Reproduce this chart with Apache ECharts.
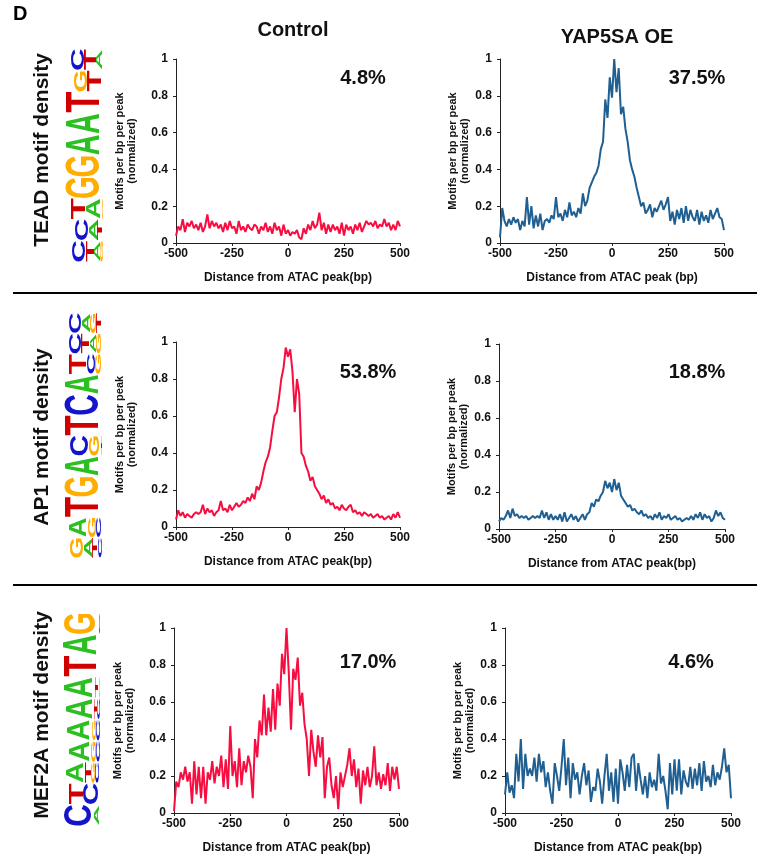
<!DOCTYPE html>
<html>
<head>
<meta charset="utf-8">
<script src="https://cdn.jsdelivr.net/npm/echarts@6/dist/echarts.min.js"></script>
<style>
  html, body { margin: 0; padding: 0; background: #fff; }
  #chart { width: 765px; height: 860px; }
</style>
</head>
<body>
<div id="chart"></div>
<script>
// distance bins, -500..500 bp every 10 bp
const distances = [];
for (let i = 0; i <= 100; i++) distances.push(-500 + 10 * i);

// normalized motif density
const teadControl = [
  0.04, 0.09, 0.07, 0.13, 0.06, 0.11, 0.09, 0.12, 0.08, 0.10,
  0.07, 0.11, 0.06, 0.09, 0.155, 0.08, 0.12, 0.09, 0.11, 0.08,
  0.10, 0.06, 0.11, 0.07, 0.12, 0.08, 0.09, 0.05, 0.12, 0.07,
  0.09, 0.06, 0.10, 0.08, 0.07, 0.10, 0.09, 0.05, 0.09, 0.07,
  0.11, 0.06, 0.09, 0.05, 0.11, 0.07, 0.09, 0.04, 0.10, 0.05,
  0.07, 0.04, 0.06, 0.05, 0.07, 0.03, 0.02, 0.08, 0.05, 0.10,
  0.07, 0.12, 0.08, 0.10, 0.165, 0.07, 0.11, 0.05, 0.10, 0.06,
  0.10, 0.07, 0.09, 0.05, 0.11, 0.04, 0.10, 0.07, 0.09, 0.05,
  0.10, 0.07, 0.11, 0.06, 0.09, 0.12, 0.10, 0.11, 0.09, 0.12,
  0.08, 0.10, 0.09, 0.13, 0.09, 0.11, 0.07, 0.10, 0.07, 0.12,
  0.09
];
const teadYap = [
  0.03, 0.19, 0.12, 0.09, 0.13, 0.10, 0.14, 0.11, 0.13, 0.07,
  0.12, 0.09, 0.25, 0.10, 0.20, 0.08, 0.15, 0.09, 0.16, 0.07,
  0.12, 0.13, 0.11, 0.15, 0.13, 0.25, 0.14, 0.16, 0.12, 0.18,
  0.14, 0.22, 0.15, 0.17, 0.14, 0.19, 0.16, 0.27, 0.20, 0.23,
  0.30, 0.33, 0.36, 0.38, 0.42, 0.51, 0.55, 0.78, 0.68, 0.90,
  0.79, 1.00, 0.82, 0.95, 0.70, 0.74, 0.62, 0.55, 0.45, 0.40,
  0.36, 0.30, 0.25, 0.20, 0.22, 0.16, 0.18, 0.21, 0.14, 0.19,
  0.17, 0.20, 0.23, 0.18, 0.21, 0.25, 0.12, 0.17, 0.10, 0.18,
  0.13, 0.19, 0.11, 0.20, 0.12, 0.18, 0.14, 0.12, 0.18, 0.10,
  0.17, 0.12, 0.15, 0.11, 0.18, 0.13, 0.16, 0.19, 0.14, 0.13,
  0.07
];
const ap1Control = [
  0.04, 0.09, 0.06, 0.08, 0.05, 0.07, 0.06, 0.05, 0.07, 0.08,
  0.07, 0.08, 0.12, 0.07, 0.10, 0.08, 0.09, 0.06, 0.08, 0.09,
  0.14, 0.09, 0.10, 0.08, 0.12, 0.09, 0.11, 0.13, 0.11, 0.12,
  0.14, 0.13, 0.16, 0.14, 0.18, 0.15, 0.22, 0.20, 0.24, 0.30,
  0.35, 0.38, 0.43, 0.52, 0.60, 0.62, 0.70, 0.80, 0.86, 0.97,
  0.92, 0.96, 0.84, 0.62, 0.80, 0.72, 0.40, 0.38, 0.33, 0.30,
  0.25, 0.27, 0.22, 0.20, 0.18, 0.15, 0.17, 0.13, 0.15, 0.12,
  0.13, 0.10, 0.11, 0.09, 0.12, 0.10, 0.09, 0.11, 0.12, 0.08,
  0.09, 0.07, 0.08, 0.06, 0.08, 0.07, 0.06, 0.07, 0.05, 0.06,
  0.07, 0.05, 0.06, 0.04, 0.05, 0.06, 0.04, 0.07, 0.05, 0.08,
  0.05
];
const ap1Yap = [
  0.04, 0.06, 0.05, 0.07, 0.10, 0.06, 0.11, 0.07, 0.08, 0.06,
  0.07, 0.06, 0.07, 0.05, 0.06, 0.07, 0.06, 0.07, 0.06, 0.10,
  0.06, 0.09, 0.05, 0.08, 0.05, 0.07, 0.05, 0.08, 0.04, 0.09,
  0.04, 0.06, 0.08, 0.05, 0.07, 0.04, 0.06, 0.08, 0.05, 0.08,
  0.09, 0.14, 0.12, 0.16, 0.15, 0.18, 0.20, 0.26, 0.22, 0.25,
  0.20, 0.27, 0.21, 0.25, 0.18, 0.16, 0.14, 0.12, 0.13, 0.10,
  0.11, 0.09, 0.08, 0.10, 0.07, 0.08, 0.06, 0.07, 0.05, 0.08,
  0.06, 0.09, 0.05, 0.07, 0.06, 0.08, 0.05, 0.06, 0.07, 0.05,
  0.06, 0.04, 0.05, 0.06, 0.05, 0.07, 0.05, 0.08, 0.06, 0.09,
  0.05, 0.08, 0.06, 0.07, 0.04, 0.06, 0.10, 0.07, 0.09, 0.06,
  0.05
];
const mef2aControl = [
  0.01, 0.17, 0.14, 0.22, 0.18, 0.25, 0.17, 0.22, 0.05, 0.28,
  0.10, 0.25, 0.08, 0.25, 0.05, 0.22, 0.18, 0.28, 0.16, 0.25,
  0.20, 0.31, 0.14, 0.29, 0.13, 0.47, 0.20, 0.28, 0.14, 0.35,
  0.15, 0.28, 0.22, 0.31, 0.25, 0.08, 0.40, 0.30, 0.50, 0.42,
  0.64, 0.42, 0.57, 0.44, 0.67, 0.45, 0.70, 0.58, 0.86, 0.75,
  1.00, 0.76, 0.45, 0.78, 0.72, 0.84, 0.58, 0.65, 0.48, 0.40,
  0.20, 0.45, 0.33, 0.25, 0.42, 0.30, 0.41, 0.08, 0.25, 0.30,
  0.15, 0.08, 0.20, 0.02, 0.22, 0.14, 0.20, 0.26, 0.35, 0.20,
  0.29, 0.14, 0.24, 0.05, 0.23, 0.15, 0.25, 0.14, 0.20, 0.36,
  0.15, 0.22, 0.13, 0.21, 0.15, 0.27, 0.12, 0.25, 0.18, 0.25,
  0.13
];
const mef2aYap = [
  0.10, 0.22, 0.11, 0.15, 0.08, 0.32, 0.17, 0.40, 0.13, 0.32,
  0.20, 0.24, 0.20, 0.30, 0.17, 0.32, 0.22, 0.28, 0.14, 0.22,
  0.12, 0.05, 0.27, 0.20, 0.12, 0.25, 0.40, 0.15, 0.30, 0.08,
  0.27, 0.18, 0.22, 0.10, 0.20, 0.27, 0.15, 0.23, 0.06, 0.14,
  0.12, 0.24, 0.17, 0.05, 0.20, 0.32, 0.12, 0.22, 0.06, 0.24,
  0.05, 0.29, 0.22, 0.12, 0.26, 0.14, 0.30, 0.32, 0.12, 0.27,
  0.18, 0.10, 0.20, 0.08, 0.22, 0.14, 0.18, 0.12, 0.32, 0.16,
  0.20, 0.12, 0.02, 0.27, 0.10, 0.29, 0.12, 0.29, 0.10, 0.23,
  0.17, 0.14, 0.25, 0.13, 0.24, 0.15, 0.27, 0.12, 0.28, 0.17,
  0.20, 0.14, 0.26, 0.15, 0.22, 0.18, 0.25, 0.35, 0.22, 0.26,
  0.08
];

const percents = ['4.8%', '37.5%', '53.8%', '18.8%', '17.0%', '4.6%'];
const columnTitles = ['Control', 'YAP5SA OE'];
const rowTitles = ['TEAD motif density', 'AP1 motif density', 'MEF2A motif density'];

// sequence logos: per position, letters bottom -> top with height in bits
const teadLogo = [
  [['G', 0.15], ['A', 0.35], ['T', 0.45], ['C', 0.75]],
  [['T', 0.3], ['A', 0.5], ['C', 0.8]],
  [['G', 0.1], ['A', 0.85], ['T', 0.85]],
  [['G', 2.0]],
  [['G', 2.0]],
  [['A', 2.0]],
  [['A', 2.0]],
  [['T', 2.0]],
  [['T', 0.85], ['G', 0.8]],
  [['A', 0.35], ['T', 0.7], ['C', 0.75]]
];
const ap1Logo = [
  [['C', 0.25], ['T', 0.3], ['A', 0.45], ['G', 0.8]],
  [['C', 0.3], ['G', 0.5], ['A', 1.0]],
  [['T', 2.0]],
  [['G', 2.0]],
  [['A', 2.0]],
  [['T', 0.1], ['G', 0.6], ['C', 1.1]],
  [['T', 2.0]],
  [['C', 2.0]],
  [['A', 2.0]],
  [['G', 0.35], ['C', 0.5], ['T', 1.0]],
  [['G', 0.3], ['A', 0.4], ['T', 0.45], ['C', 0.7]],
  [['T', 0.3], ['G', 0.35], ['A', 0.5], ['C', 0.7]]
];
const mef2aLogo = [
  [['A', 0.3], ['C', 1.6]],
  [['C', 0.9], ['T', 0.8]],
  [['C', 0.25], ['G', 0.25], ['T', 0.35], ['A', 0.95]],
  [['C', 0.2], ['G', 0.3], ['A', 1.2]],
  [['C', 0.2], ['G', 0.25], ['A', 1.3]],
  [['C', 0.15], ['T', 0.15], ['A', 1.5]],
  [['G', 0.1], ['T', 0.15], ['A', 1.7]],
  [['T', 1.9]],
  [['A', 1.95]],
  [['C', 0.1], ['G', 1.8]]
];

const RED = '#f70d40';
const BLUE = '#1f5f91';
const FONT = '"Liberation Sans", Arial, Helvetica, sans-serif';
const LETTER_COLOR = { A: '#2bbf22', C: '#1414cc', G: '#ffae00', T: '#d00000' };
const LETTER_INK = { A: 0.70, C: 0.64, G: 0.68, T: 0.58 };

const chart = echarts.init(document.getElementById('chart'));

const panels = [
  { data: teadControl, color: RED, grid: { left: 176, top: 59, width: 224, height: 184 }, xName: 'Distance from ATAC peak(bp)' },
  { data: teadYap, color: BLUE, grid: { left: 500, top: 59, width: 224, height: 184 }, xName: 'Distance from ATAC peak (bp)' },
  { data: ap1Control, color: RED, grid: { left: 176, top: 342, width: 224, height: 185 }, xName: 'Distance from ATAC peak(bp)' },
  { data: ap1Yap, color: BLUE, grid: { left: 499, top: 344, width: 226, height: 185 }, xName: 'Distance from ATAC peak(bp)' },
  { data: mef2aControl, color: RED, grid: { left: 174, top: 628, width: 225, height: 185 }, xName: 'Distance from ATAC peak(bp)' },
  { data: mef2aYap, color: BLUE, grid: { left: 505, top: 628, width: 226, height: 185 }, xName: 'Distance from ATAC peak(bp)' }
];

const axisCommon = {
  axisLine: { show: true, onZero: false, lineStyle: { color: '#222', width: 1 } },
  axisTick: { show: true, length: 3, lineStyle: { color: '#222' } },
  splitLine: { show: false },
  axisLabel: { color: '#111', fontFamily: FONT, fontWeight: 'bold', fontSize: 12 }
};

const grids = [], xAxes = [], yAxes = [], series = [];
panels.forEach((p, i) => {
  grids.push(p.grid);
  xAxes.push(Object.assign({}, axisCommon, {
    type: 'value', gridIndex: i, min: -500, max: 500, interval: 250,
    axisLabel: Object.assign({}, axisCommon.axisLabel, { margin: 5 }),
    name: p.xName, nameLocation: 'middle', nameGap: 29,
    nameTextStyle: { color: '#111', fontFamily: FONT, fontWeight: 'bold', fontSize: 12 }
  }));
  yAxes.push(Object.assign({}, axisCommon, {
    type: 'value', gridIndex: i, min: 0, max: 1, interval: 0.2,
    axisLabel: Object.assign({}, axisCommon.axisLabel, { margin: 8 }),
    name: 'Motifs per bp per peak\n(normalized)', nameLocation: 'middle', nameRotate: 90,
    nameGap: i % 2 === 0 ? 38 : 29,
    nameTextStyle: { color: '#111', fontFamily: FONT, fontWeight: 'bold', fontSize: 11, lineHeight: 12 }
  }));
  series.push({
    type: 'line', xAxisIndex: i, yAxisIndex: i,
    data: distances.map((d, k) => [d, p.data[k]]),
    showSymbol: false, symbol: 'none',
    lineStyle: { color: p.color, width: 2 },
    silent: true, animation: false
  });
});

// builds a rotated sequence logo; baseline on the right, first position at the bottom
function logoGroup(stacks, baseX, bottomY, topY, pxPerBit) {
  const slot = (bottomY - topY) / stacks.length;
  const children = [];
  stacks.forEach((stack, i) => {
    let cum = 0;
    stack.forEach(([ch, bits]) => {
      const h = bits * pxPerBit;
      children.push({
        type: 'text', x: (i + 0.5) * slot, y: -(cum + h / 2),
        scaleX: slot * 0.94 / (LETTER_INK[ch] * 100), scaleY: h / 72,
        style: {
          text: ch, fill: LETTER_COLOR[ch], font: 'bold 100px ' + FONT,
          align: 'center', verticalAlign: 'middle', textAlign: 'center', textVerticalAlign: 'middle'
        }
      });
      cum += h;
    });
  });
  return { type: 'group', x: baseX, y: bottomY, rotation: Math.PI / 2, children };
}

function label(text, x, y, size, rot) {
  return {
    type: 'text', x, y, rotation: rot || 0,
    style: {
      text, fill: '#111', font: 'bold ' + size + 'px ' + FONT,
      align: 'center', verticalAlign: 'middle', textAlign: 'center', textVerticalAlign: 'middle'
    }
  };
}

const pctPos = [[363, 78], [697, 78], [368, 372], [697, 372], [368, 662], [691, 662]];

const graphic = [
  { type: 'text', x: 13, y: 4, style: { text: 'D', fill: '#000', font: 'bold 20px ' + FONT } },
  label(columnTitles[0], 293, 30, 20),
  label(columnTitles[1], 617, 37, 20),
  label(rowTitles[0], 42, 150, 21, Math.PI / 2),
  label(rowTitles[1], 42, 437, 21, Math.PI / 2),
  label(rowTitles[2], 42, 715, 21, Math.PI / 2),
  { type: 'line', shape: { x1: 13, y1: 293, x2: 757, y2: 293 }, style: { stroke: '#000', lineWidth: 2 } },
  { type: 'line', shape: { x1: 13, y1: 585, x2: 757, y2: 585 }, style: { stroke: '#000', lineWidth: 2 } },
  logoGroup(teadLogo, 103, 262, 49, 17),
  logoGroup(ap1Logo, 102, 558, 313, 17),
  logoGroup(mef2aLogo, 100, 826, 613, 17.5)
];
percents.forEach((t, i) => graphic.push(label(t, pctPos[i][0], pctPos[i][1], 20)));

chart.setOption({
  backgroundColor: '#fff',
  animation: false,
  grid: grids,
  xAxis: xAxes,
  yAxis: yAxes,
  series,
  graphic
});
</script>
</body>
</html>
